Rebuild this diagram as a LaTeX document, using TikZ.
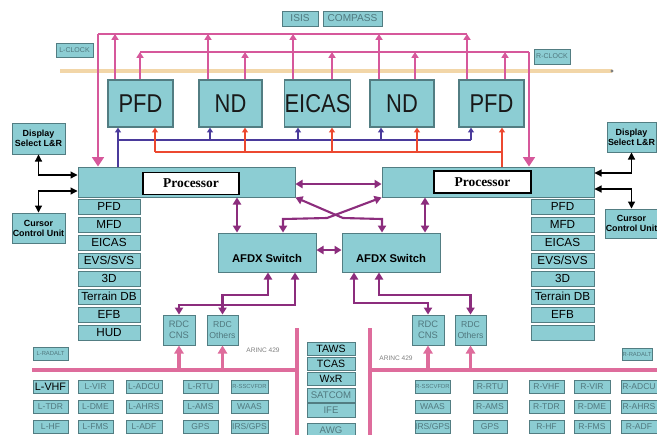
\documentclass[tikz,border=0pt]{standalone}
\usepackage{fontspec}
\setmainfont{Liberation Sans}
\newfontfamily\dispfont[FakeStretch=0.85]{Liberation Sans}
\newfontfamily\procfont{Liberation Serif}
\usetikzlibrary{arrows.meta}

\definecolor{boxfill}{RGB}{140,205,211}
\definecolor{boxline}{RGB}{82,125,130}
\definecolor{busPink}{RGB}{214,88,155}
\definecolor{arincPink}{RGB}{222,108,156}
\definecolor{linkPurple}{RGB}{140,45,125}
\definecolor{busBlue}{RGB}{74,58,155}
\definecolor{busRed}{RGB}{236,72,48}
\definecolor{clockTan}{RGB}{242,214,168}
\definecolor{softText}{RGB}{80,120,126}

\tikzset{
  wh/.style 2 args={minimum width=#1*0.03cm, minimum height=#2*0.03cm},
  box/.style={draw=boxline, fill=boxfill, line width=0.8pt, inner sep=0pt, align=center},
  disp/.style={box, line width=1.1pt, text=black!90, font=\dispfont\fontsize{22}{23}\selectfont},
  listbox/.style={box, font=\fontsize{10}{11}\selectfont},
  smallbox/.style={box, text=softText, font=\fontsize{7.3}{8}\selectfont},
  tinybox/.style={box, text=softText, font=\fontsize{5}{6}\selectfont},
  sidebox/.style={box, font=\bfseries\fontsize{7.6}{8.6}\selectfont},
  switchbox/.style={box, font=\bfseries\fontsize{9.6}{10}\selectfont, text height=0.72cm, text depth=0.1cm},
  rdcbox/.style={box, text=softText, font=\fontsize{8}{9}\selectfont},
  procbox/.style={draw=black, fill=white, line width=1.2pt, inner sep=0pt, font=\procfont\bfseries\fontsize{11.5}{12}\selectfont},
  pinkbus/.style={draw=busPink, line width=2.4pt},
  pinkup/.style={draw=busPink, line width=2.4pt, -{Triangle[width=6pt,length=5pt]}},
  pinkdown/.style={draw=busPink, line width=2.4pt, -{Triangle[width=10pt,length=8pt]}},
  bluebus/.style={draw=busBlue, line width=2.4pt},
  blueup/.style={draw=busBlue, line width=2.4pt, -{Triangle[width=5pt,length=4pt]}},
  redbus/.style={draw=busRed, line width=2pt},
  redup/.style={draw=busRed, line width=2pt, -{Triangle[width=5pt,length=4pt]}},
  link/.style={draw=linkPurple, line width=1.8pt, {Triangle[width=7pt,length=6pt]}-{Triangle[width=7pt,length=6pt]}},
  blk/.style={draw=black, line width=0.9pt, {Triangle[width=6pt,length=6pt]}-{Triangle[width=6pt,length=6pt]}},
  arincbus/.style={draw=arincPink, line width=3pt},
  arincup/.style={draw=arincPink, line width=2.6pt, -{Triangle[width=8pt,length=7pt]}},
}

\begin{document}
\begin{tikzpicture}[x=0.03cm, y=-0.03cm]
    \useasboundingbox (0,0) rectangle (657,434);

    % Clock line behind everything
    \coordinate (clk-l) at (60,71);
    \coordinate (clk-r) at (612,71);
    \draw[clockTan, line width=3.2pt] (clk-l) -- (clk-r);
    \fill[gray] (clk-r) circle (1.4pt);

    % Top sensors and clocks
    \node (isis) at (300,18.5) [smallbox, wh={36}{15}, font=\fontsize{8.6}{9}\selectfont] {ISIS};
    \node (compass) at (352.5,18.5) [smallbox, wh={59}{15}, font=\fontsize{8.6}{9}\selectfont] {COMPASS};
    \node (lclock) at (74.5,50) [tinybox, wh={37}{14}, font=\fontsize{6}{7}\selectfont] {L-CLOCK};
    \node (rclock) at (552,56.5) [tinybox, wh={36}{15}, font=\fontsize{6}{7}\selectfont] {R-CLOCK};

    % Display units
    \node (pfdl) at (140.5,103.5) [disp, wh={65}{47}] {PFD};
    \node (ndl) at (230.5,103.5) [disp, wh={63}{47}] {ND};
    \node (eicas) at (317.5,103.5) [disp, wh={65}{47}] {EICAS};
    \node (ndr) at (402,103.5) [disp, wh={64}{47}] {ND};
    \node (pfdr) at (491.5,103.5) [disp, wh={65}{47}] {PFD};

    % Processors
    \node (procl) at (186.5,182) [box, wh={217}{30}] {};
    \node (procl-lbl) at (191,183.5) [procbox, wh={96}{22}] {Processor};
    \node (procr) at (488,182) [box, wh={212}{30}] {};
    \node (procr-lbl) at (482.5,182) [procbox, wh={97}{22}] {Processor};

    % Left function list
    \node (pfd-l) at (109,206.5) [listbox, wh={62}{15}] {PFD};
    \node (mfd-l) at (109,224.5) [listbox, wh={62}{15}] {MFD};
    \node (eicas-l) at (109,242.5) [listbox, wh={62}{15}] {EICAS};
    \node (evs-l) at (109,260.5) [listbox, wh={62}{15}] {EVS/SVS};
    \node (threed-l) at (109,278.5) [listbox, wh={62}{15}] {3D};
    \node (terrain-l) at (109,296.5) [listbox, wh={62}{15}] {Terrain DB};
    \node (efb-l) at (109,314.5) [listbox, wh={62}{15}] {EFB};
    \node (hud-l) at (109,332.5) [listbox, wh={62}{15}] {HUD};

    % Right function list
    \node (pfd-r) at (562.5,206.5) [listbox, wh={63}{15}] {PFD};
    \node (mfd-r) at (562.5,224.5) [listbox, wh={63}{15}] {MFD};
    \node (eicas-r) at (562.5,242.5) [listbox, wh={63}{15}] {EICAS};
    \node (evs-r) at (562.5,260.5) [listbox, wh={63}{15}] {EVS/SVS};
    \node (threed-r) at (562.5,278.5) [listbox, wh={63}{15}] {3D};
    \node (terrain-r) at (562.5,296.5) [listbox, wh={63}{15}] {Terrain DB};
    \node (efb-r) at (562.5,314.5) [listbox, wh={63}{15}] {EFB};
    \node (spare-r) at (562.5,332.5) [listbox, wh={63}{15}] {};

    % Side controls
    \node (dsl) at (38.5,138.5) [sidebox, wh={53}{31}] {Display\\Select L\&R};
    \node (ccl) at (38.5,228) [sidebox, wh={53}{30}] {Cursor\\Control Unit};
    \node (dsr) at (631.5,137) [sidebox, wh={49}{30}] {Display\\Select L\&R};
    \node (ccr) at (631.5,223.5) [sidebox, wh={49}{29}] {Cursor\\Control Unit};

    % AFDX switches
    \node (swl) at (267,252.5) [switchbox, wh={98}{39}] {AFDX Switch};
    \node (swr) at (391,252.5) [switchbox, wh={98}{39}] {AFDX Switch};

    % Remote data concentrators
    \node (rdccl) at (179,330) [rdcbox, wh={32}{30}] {RDC\\CNS};
    \node (rdcol) at (222.5,330) [rdcbox, wh={31}{30}, font=\fontsize{7.4}{9}\selectfont] {RDC\\Others};
    \node (rdccr) at (428,330) [rdcbox, wh={32}{30}] {RDC\\CNS};
    \node (rdcor) at (470.5,330) [rdcbox, wh={31}{30}, font=\fontsize{7.4}{9}\selectfont] {RDC\\Others};

    % Pink bus A (to left processor)
    \coordinate (busA-l) at (98,34);
    \coordinate (busA-r) at (467,34);
    \draw[pinkbus] (busA-l) -- (busA-r);
    \draw[pinkdown] (busA-l) -- (procl.north -| busA-l);
    \draw[pinkup] (pfdl.north -| 115,0) -- (busA-l -| 115,0);
    \draw[pinkup] (ndl.north -| 208,0) -- (busA-l -| 208,0);
    \draw[pinkup] (eicas.north -| 293,0) -- (busA-l -| 293,0);
    \draw[pinkup] (ndr.north -| 379,0) -- (busA-l -| 379,0);
    \draw[pinkup] (pfdr.north -| busA-r) -- (busA-r);

    % Pink bus B (to right processor)
    \coordinate (busB-l) at (140,52);
    \coordinate (busB-r) at (529,52);
    \draw[pinkbus] (busB-l) -- (busB-r);
    \draw[pinkdown] (busB-r) -- (procr.north -| busB-r);
    \draw[pinkup] (pfdl.north -| busB-l) -- (busB-l);
    \draw[pinkup] (ndl.north -| 245,0) -- (busB-l -| 245,0);
    \draw[pinkup] (eicas.north -| 332,0) -- (busB-l -| 332,0);
    \draw[pinkup] (ndr.north -| 415,0) -- (busB-l -| 415,0);
    \draw[pinkup] (pfdr.north -| 505,0) -- (busB-l -| 505,0);

    % Blue bus from left processor
    \coordinate (blue-l) at (118,140);
    \coordinate (blue-r) at (471,140);
    \draw[bluebus] (procl.north -| blue-l) -- (blue-l) -- (blue-r);
    \draw[blueup] (blue-l) -- (pfdl.south -| blue-l);
    \draw[blueup] (blue-l -| 210,0) -- (ndl.south -| 210,0);
    \draw[blueup] (blue-l -| 298,0) -- (eicas.south -| 298,0);
    \draw[blueup] (blue-l -| 381,0) -- (ndr.south -| 381,0);
    \draw[blueup] (blue-r) -- (pfdr.south -| blue-r);

    % Red bus from right processor
    \coordinate (red-l) at (155,152);
    \coordinate (red-r) at (502,152);
    \draw[redbus] (red-l) -- (red-r) -- (procr.north -| red-r);
    \draw[redup] (red-l) -- (pfdl.south -| red-l);
    \draw[redup] (red-l -| 245,0) -- (ndl.south -| 245,0);
    \draw[redup] (red-l -| 332,0) -- (eicas.south -| 332,0);
    \draw[redup] (red-l -| 417,0) -- (ndr.south -| 417,0);
    \draw[redup] (red-r) -- (pfdr.south -| red-r);

    % Display select and cursor links
    \draw[blk] (dsl.south) |- (procl.west |- 0,175);
    \draw[blk] (procl.west |- 0,191) -| (ccl.north);
    \draw[blk] (dsr.south) |- (procr.east |- 0,173);
    \draw[blk] (procr.east |- 0,189) -| (ccr.north);

    % AFDX network
    \draw[link] (procl.south -| 237,0) -- (swl.north -| 237,0);
    \draw[link] (procr.south -| 425,0) -- (swr.north -| 425,0);
    \draw[link] (procl.east |- 0,184) -- (procr.west |- 0,184);
    \draw[link] (swl.east |- 0,250) -- (swr.west |- 0,250);
    \draw[link] (procl.south east) -- (343,218) -- (382,219) -- (swr.north -| 382,0);
    \draw[link] (procr.south west) -- (327,218) -- (283,219) -- (swl.north -| 283,0);
    \draw[link] (swl.south -| 268,0) -- (268,295) -| (rdcol.north);
    \draw[link] (swl.south -| 295,0) -- (295,305) -| (rdccl.north);
    \draw[link] (swr.south -| 354,0) -- (354,303) -| (rdccr.north);
    \draw[link] (swr.south -| 379,0) -- (379,295) -| (rdcor.north);

    % ARINC 429 buses
    \coordinate (arl-w) at (32,370);
    \coordinate (arl-e) at (297,370);
    \coordinate (arl-top) at (297,328);
    \coordinate (arl-bot) at (297,440);
    \coordinate (arr-w) at (370,370);
    \coordinate (arr-e) at (660,370);
    \coordinate (arr-top) at (370,328);
    \coordinate (arr-bot) at (370,440);
    \draw[arincbus] (arl-w) -- (arl-e);
    \draw[arincbus] (arl-top) -- (arl-bot);
    \draw[arincbus] (arr-w) -- (arr-e);
    \draw[arincbus] (arr-top) -- (arr-bot);
    \draw[arincup] (rdccl.south |- arl-w) -- (rdccl.south);
    \draw[arincup] (rdcol.south |- arl-w) -- (rdcol.south);
    \draw[arincup] (rdccr.south |- arr-w) -- (rdccr.south);
    \draw[arincup] (rdcor.south |- arr-w) -- (rdcor.south);
    \node (arinc-l) at (263,350) [text=gray, font=\fontsize{5.6}{6}\selectfont] {ARINC 429};
    \node (arinc-r) at (396,358) [text=gray, font=\fontsize{5.6}{6}\selectfont] {ARINC 429};
    \node (radalt-l) at (50.5,353.5) [tinybox, wh={35}{13}] {L-RADALT};
    \node (radalt-r) at (637,354) [tinybox, wh={30}{12}] {R-RADALT};

    % Centre column
    \node (taws) at (331,348.5) [smallbox, wh={48}{13}, text=black, font=\fontsize{9}{10}\selectfont] {TAWS};
    \node (tcas) at (331,363.5) [smallbox, wh={48}{13}, text=black, font=\fontsize{9}{10}\selectfont] {TCAS};
    \node (wxr) at (331,379) [smallbox, wh={48}{13}, text=black, font=\fontsize{9}{10}\selectfont] {WxR};
    \node (satcom) at (331,395) [smallbox, wh={48}{14}, font=\fontsize{8.2}{9}\selectfont] {SATCOM};
    \node (ife) at (331,410) [smallbox, wh={48}{14}, font=\fontsize{8.2}{9}\selectfont] {IFE};
    \node (awg) at (331,430) [smallbox, wh={48}{14}, font=\fontsize{8.2}{9}\selectfont] {AWG};

    % Left radio and sensor units
    \node (lvhf) at (50.5,386.5) [smallbox, wh={35}{13}, text=black, font=\fontsize{9.2}{10}\selectfont] {L-VHF};
    \node (lvir) at (95.5,386.5) [smallbox, wh={35}{13}] {L-VIR};
    \node (ladcu) at (144,386.5) [smallbox, wh={36}{13}] {L-ADCU};
    \node (lrtu) at (200.5,386.5) [smallbox, wh={35}{13}] {L-RTU};
    \node (lsscvr) at (249.5,386.5) [tinybox, wh={37}{13}] {R-SSCVFDR};
    \node (ltdr) at (50.5,406.5) [smallbox, wh={35}{13}] {L-TDR};
    \node (ldme) at (95.5,406.5) [smallbox, wh={35}{13}] {L-DME};
    \node (lahrs) at (144,406.5) [smallbox, wh={36}{13}] {L-AHRS};
    \node (lams) at (200.5,406.5) [smallbox, wh={35}{13}] {L-AMS};
    \node (lwaas) at (249.5,406.5) [smallbox, wh={37}{13}] {WAAS};
    \node (lhf) at (50.5,426.5) [smallbox, wh={35}{13}] {L-HF};
    \node (lfms) at (95.5,426.5) [smallbox, wh={35}{13}] {L-FMS};
    \node (ladf) at (144,426.5) [smallbox, wh={36}{13}] {L-ADF};
    \node (lgps) at (200.5,426.5) [smallbox, wh={35}{13}] {GPS};
    \node (lirs) at (249.5,426.5) [smallbox, wh={37}{13}] {IRS/GPS};

    % Right radio and sensor units
    \node (rsscvr) at (432.5,386.5) [tinybox, wh={35}{13}] {R-SSCVFDR};
    \node (rrtu) at (490,386.5) [smallbox, wh={34}{13}] {R-RTU};
    \node (rvhf) at (546.5,386.5) [smallbox, wh={35}{13}] {R-VHF};
    \node (rvir) at (592,386.5) [smallbox, wh={36}{13}] {R-VIR};
    \node (radcu) at (639,386.5) [smallbox, wh={36}{13}] {R-ADCU};
    \node (rwaas) at (432.5,406.5) [smallbox, wh={35}{13}] {WAAS};
    \node (rams) at (490,406.5) [smallbox, wh={34}{13}] {R-AMS};
    \node (rtdr) at (546.5,406.5) [smallbox, wh={35}{13}] {R-TDR};
    \node (rdme) at (592,406.5) [smallbox, wh={36}{13}] {R-DME};
    \node (rahrs) at (639,406.5) [smallbox, wh={36}{13}] {R-AHRS};
    \node (rirs) at (432.5,426.5) [smallbox, wh={35}{13}] {IRS/GPS};
    \node (rgps) at (490,426.5) [smallbox, wh={34}{13}] {GPS};
    \node (rhf) at (546.5,426.5) [smallbox, wh={35}{13}] {R-HF};
    \node (rfms) at (592,426.5) [smallbox, wh={36}{13}] {R-FMS};
    \node (radf) at (639,426.5) [smallbox, wh={36}{13}] {R-ADF};
\end{tikzpicture}
\end{document}
